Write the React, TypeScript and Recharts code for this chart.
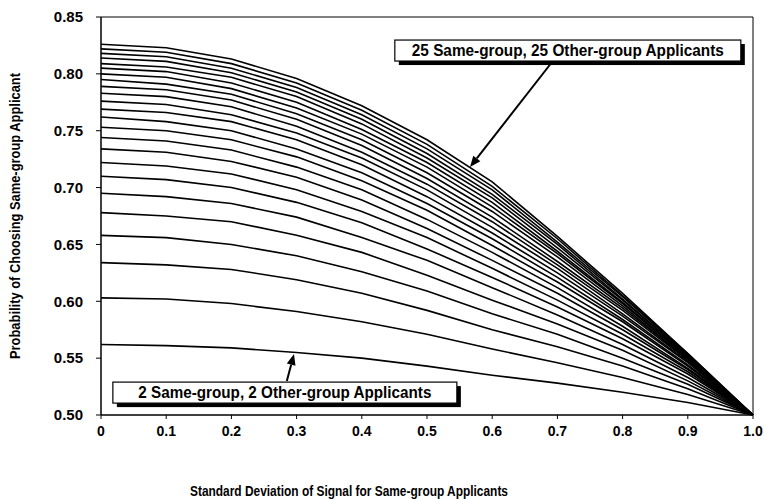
import React from "react";
import {
  LineChart,
  Line,
  XAxis,
  YAxis,
  ReferenceLine,
  ReferenceDot,
  Label,
} from "recharts";

// ─── Data ───────────────────────────────────────────────────────────────────

const sdValues = [0, 0.1, 0.2, 0.3, 0.4, 0.5, 0.6, 0.7, 0.8, 0.9, 1.0];
const xTicks = [0, 0.1, 0.2, 0.3, 0.4, 0.5, 0.6, 0.7, 0.8, 0.9, 1.0];
const yTicks = [0.5, 0.55, 0.6, 0.65, 0.7, 0.75, 0.8, 0.85];

// one curve per pool size: n same-group and n other-group applicants
const n02 = [0.562, 0.561, 0.559, 0.555, 0.55, 0.543, 0.535, 0.528, 0.52, 0.511, 0.5];
const n03 = [0.603, 0.602, 0.598, 0.591, 0.582, 0.571, 0.558, 0.546, 0.533, 0.518, 0.5];
const n04 = [0.634, 0.632, 0.628, 0.619, 0.607, 0.592, 0.575, 0.56, 0.543, 0.523, 0.5];
const n05 = [0.658, 0.656, 0.65, 0.64, 0.626, 0.609, 0.589, 0.571, 0.55, 0.527, 0.5];
const n06 = [0.678, 0.675, 0.67, 0.658, 0.643, 0.623, 0.601, 0.58, 0.557, 0.53, 0.5];
const n07 = [0.695, 0.692, 0.686, 0.674, 0.656, 0.636, 0.612, 0.588, 0.562, 0.533, 0.5];
const n08 = [0.71, 0.707, 0.7, 0.687, 0.669, 0.646, 0.621, 0.595, 0.567, 0.536, 0.5];
const n09 = [0.722, 0.719, 0.712, 0.698, 0.679, 0.656, 0.629, 0.601, 0.571, 0.538, 0.5];
const n10 = [0.734, 0.731, 0.723, 0.709, 0.689, 0.664, 0.636, 0.607, 0.575, 0.54, 0.5];
const n11 = [0.744, 0.741, 0.733, 0.718, 0.698, 0.672, 0.643, 0.612, 0.578, 0.541, 0.5];
const n12 = [0.753, 0.75, 0.742, 0.727, 0.706, 0.68, 0.649, 0.617, 0.582, 0.543, 0.5];
const n13 = [0.762, 0.758, 0.75, 0.734, 0.713, 0.686, 0.655, 0.621, 0.584, 0.544, 0.5];
const n14 = [0.769, 0.766, 0.758, 0.742, 0.72, 0.692, 0.66, 0.625, 0.587, 0.546, 0.5];
const n15 = [0.776, 0.773, 0.764, 0.748, 0.726, 0.698, 0.665, 0.629, 0.589, 0.547, 0.5];
const n16 = [0.783, 0.78, 0.771, 0.754, 0.731, 0.703, 0.67, 0.632, 0.592, 0.548, 0.5];
const n17 = [0.789, 0.786, 0.777, 0.76, 0.737, 0.708, 0.674, 0.635, 0.594, 0.549, 0.5];
const n18 = [0.795, 0.791, 0.782, 0.765, 0.742, 0.713, 0.679, 0.639, 0.596, 0.549, 0.5];
const n19 = [0.8, 0.797, 0.787, 0.77, 0.747, 0.718, 0.683, 0.642, 0.598, 0.55, 0.5];
const n20 = [0.805, 0.802, 0.792, 0.775, 0.751, 0.722, 0.687, 0.644, 0.599, 0.551, 0.5];
const n21 = [0.809, 0.806, 0.797, 0.78, 0.756, 0.726, 0.691, 0.647, 0.601, 0.552, 0.5];
const n22 = [0.814, 0.811, 0.801, 0.784, 0.76, 0.73, 0.694, 0.65, 0.602, 0.552, 0.5];
const n23 = [0.818, 0.815, 0.805, 0.788, 0.764, 0.734, 0.698, 0.652, 0.604, 0.553, 0.5];
const n24 = [0.822, 0.819, 0.809, 0.792, 0.768, 0.738, 0.701, 0.655, 0.605, 0.554, 0.5];
const n25 = [0.826, 0.823, 0.813, 0.796, 0.772, 0.742, 0.705, 0.657, 0.607, 0.554, 0.5];

const curves = [
  n02, n03, n04, n05, n06, n07, n08, n09, n10, n11, n12, n13,
  n14, n15, n16, n17, n18, n19, n20, n21, n22, n23, n24, n25,
];
const curveKeys = curves.map((_, i) => `n${i + 2}`);

const topLabel = "25 Same-group, 25 Other-group Applicants";
const bottomLabel = "2 Same-group, 2 Other-group Applicants";

const data = sdValues.map((sd, i) => {
  const row: { [key: string]: number } = { sd };
  curves.forEach((c, j) => {
    row[curveKeys[j]] = c[i];
  });
  return row;
});

const FONT = '"Liberation Sans", Arial, Helvetica, sans-serif';

// ─── Annotation shapes ──────────────────────────────────────────────────────

function boxShape(text: string, w: number, textLen: number) {
  return (props: any) => {
    const { cx, cy } = props;
    const h = 21;
    const x = cx - w / 2;
    const y = cy - h / 2;
    return (
      <g>
        <rect x={x + 4} y={y + 4} width={w} height={h} fill="#000" />
        <rect x={x} y={y} width={w} height={h} fill="#fff" stroke="#000" strokeWidth={1.2} />
        <text
          x={cx}
          y={cy + 5.5}
          textAnchor="middle"
          fontFamily={FONT}
          fontWeight={700}
          fontSize={16}
          textLength={textLen}
          lengthAdjust="spacingAndGlyphs"
          fill="#000"
        >
          {text}
        </text>
      </g>
    );
  };
}

const arrowShape = (props: any) => {
  const { x1, y1, x2, y2 } = props;
  const dx = x2 - x1;
  const dy = y2 - y1;
  const len = Math.sqrt(dx * dx + dy * dy) || 1;
  const ux = dx / len;
  const uy = dy / len;
  const head = 11;
  const half = 4.5;
  const bx = x2 - ux * head;
  const by = y2 - uy * head;
  return (
    <g>
      <line x1={x1} y1={y1} x2={bx} y2={by} stroke="#000" strokeWidth={2} />
      <polygon
        points={`${x2},${y2} ${bx - uy * half},${by + ux * half} ${bx + uy * half},${by - ux * half}`}
        fill="#000"
      />
    </g>
  );
};

const YTitle = (props: any) => {
  const { viewBox } = props;
  const cx = viewBox.x + 15;
  const cy = viewBox.y + viewBox.height / 2;
  return (
    <text
      x={cx}
      y={cy}
      transform={`rotate(-90, ${cx}, ${cy})`}
      textAnchor="middle"
      dominantBaseline="central"
      fontFamily={FONT}
      fontWeight={700}
      fontSize={14}
      textLength={286}
      lengthAdjust="spacingAndGlyphs"
      fill="#000"
    >
      Probability of Choosing Same-group Applicant
    </text>
  );
};

const XTitle = (props: any) => {
  const { viewBox } = props;
  return (
    <text
      x={viewBox.x + 248}
      y={viewBox.y + 81}
      textAnchor="middle"
      fontFamily={FONT}
      fontWeight={700}
      fontSize={15}
      textLength={318}
      lengthAdjust="spacingAndGlyphs"
      fill="#000"
    >
      Standard Deviation of Signal for Same-group Applicants
    </text>
  );
};

// ─── Chart ──────────────────────────────────────────────────────────────────

export default function App() {
  const xTickStyle = { fontSize: 14, fontWeight: 700, fill: "#000", fontFamily: FONT };
  const yTickStyle = { fontSize: 15, fontWeight: 700, fill: "#000", fontFamily: FONT };
  return (
    <div
      style={{
        position: "absolute",
        left: 0,
        top: 0,
        width: 764,
        height: 499,
        fontFamily: FONT,
        background: "#fff",
      }}
    >
      <LineChart width={764} height={499} data={data} margin={{ top: 17, right: 11, bottom: 0, left: 0 }}>
        <XAxis
          dataKey="sd"
          type="number"
          domain={[0, 1]}
          ticks={xTicks}
          tickFormatter={(v: number) => (v === 0 ? "0" : v.toFixed(1))}
          interval={0}
          height={84}
          tickSize={4}
          tickMargin={7}
          tick={xTickStyle}
          stroke="#000"
          axisLine={{ stroke: "#000", strokeWidth: 1.5 }}
          tickLine={{ stroke: "#000" }}
        >
          <Label content={<XTitle />} />
        </XAxis>
        <YAxis
          type="number"
          domain={[0.5, 0.85]}
          ticks={yTicks}
          tickFormatter={(v: number) => v.toFixed(2)}
          interval={0}
          width={101}
          tickSize={5}
          tickMargin={13}
          tick={yTickStyle}
          stroke="#000"
          axisLine={{ stroke: "#000", strokeWidth: 1.5 }}
          tickLine={{ stroke: "#000" }}
        >
          <Label content={<YTitle />} />
        </YAxis>
        <ReferenceLine y={0.85} stroke="#000" strokeWidth={1} />
        <ReferenceLine x={1} stroke="#000" strokeWidth={1} />
        {curveKeys.map((key) => (
          <Line
            key={key}
            type="linear"
            dataKey={key}
            stroke="#000"
            strokeWidth={1.6}
            dot={false}
            activeDot={false}
            isAnimationActive={false}
          />
        ))}
        <ReferenceLine
          segment={[
            { x: 0.693, y: 0.8113 },
            { x: 0.566, y: 0.718 },
          ]}
          shape={arrowShape}
        />
        <ReferenceLine
          segment={[
            { x: 0.285, y: 0.53 },
            { x: 0.296, y: 0.5536 },
          ]}
          shape={arrowShape}
        />
        <ReferenceDot x={0.716} y={0.8205} r={1} shape={boxShape(topLabel, 346, 312)} />
        <ReferenceDot x={0.282} y={0.5197} r={1} shape={boxShape(bottomLabel, 344, 293)} />
      </LineChart>
    </div>
  );
}
